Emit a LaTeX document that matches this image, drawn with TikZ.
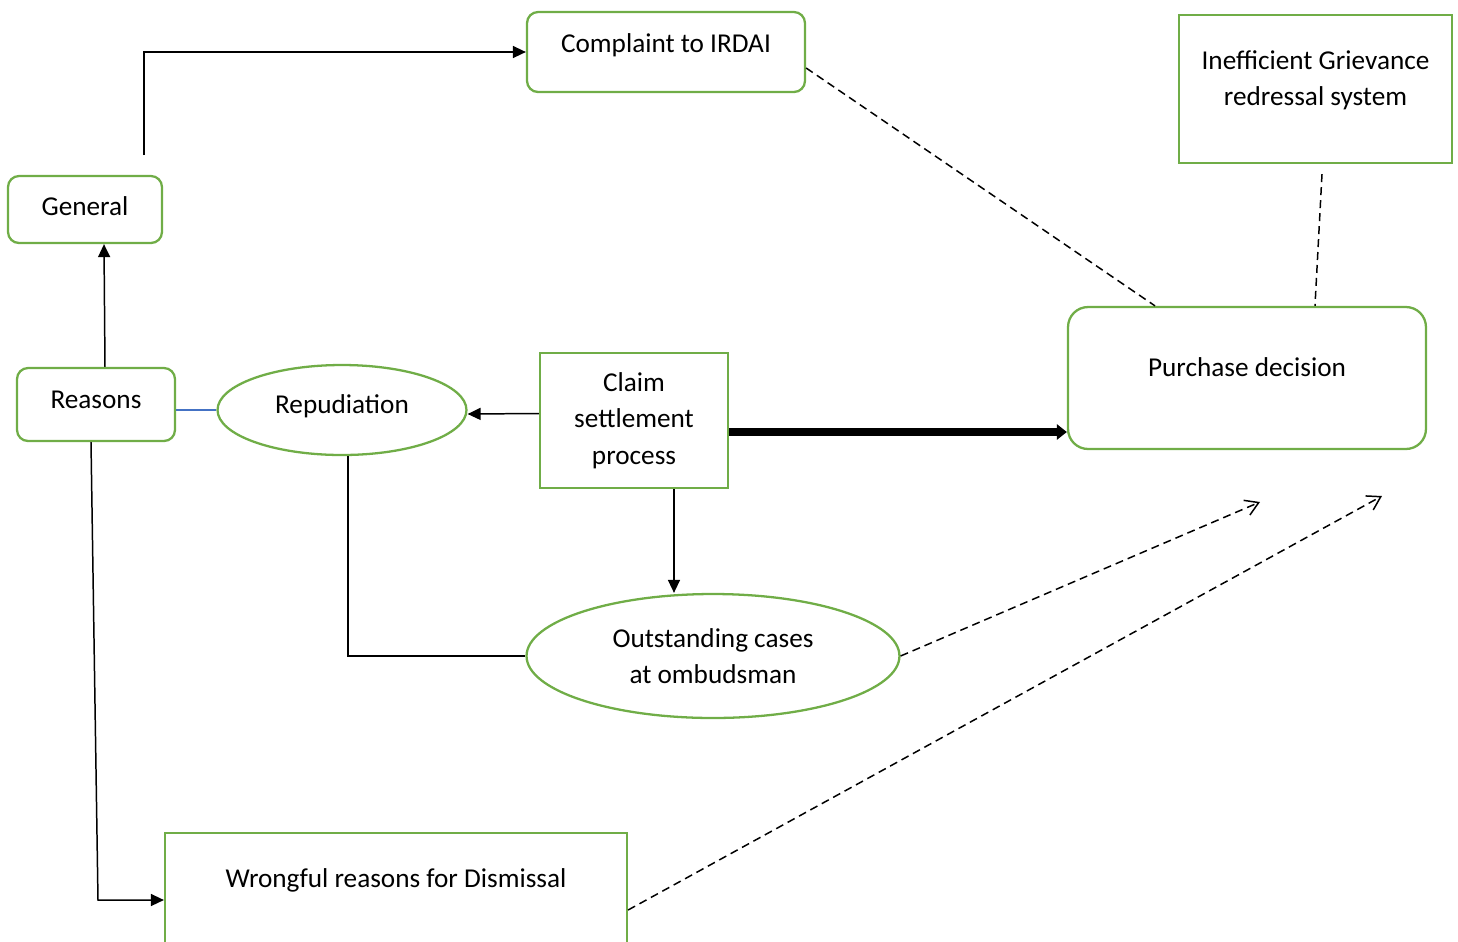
\documentclass[tikz,border=0pt]{standalone}
\usepackage{fontspec}
\setmainfont{Carlito}
\usetikzlibrary{calc,shapes.geometric,arrows.meta}

\definecolor{boxgreen}{HTML}{70AD47}
\definecolor{linkblue}{HTML}{4472C4}

\begin{document}
\begin{tikzpicture}[x=0.02cm, y=-0.02cm,
        font=\fontsize{15.5}{20.7}\selectfont,
        box/.style={draw=boxgreen, line width=1.3pt, inner sep=0pt, align=center},
        rbox/.style={box, rounded corners=0.22cm},
        oval/.style={box, ellipse},
        line/.style={line width=0.85pt},
        arr/.style={line, -{Triangle[length=0.26cm, width=0.24cm]}},
        dline/.style={line width=0.85pt, dash pattern=on 0.16cm off 0.1cm},
        darr/.style={dline, -{Straight Barb[length=0.26cm, width=0.32cm]}}]
            \useasboundingbox (0,0) rectangle (1458,941);

            \node [rbox, minimum width=3.08cm, minimum height=1.34cm, text depth=4pt] (general) at (85,209.5) {General};
            \node [rbox, minimum width=3.16cm, minimum height=1.46cm, text depth=5.5pt] (reasons) at (96,404.5) {Reasons};
            \node [rbox, minimum width=5.56cm, minimum height=1.6cm,
                label={[yshift=0.14cm]center:Complaint to IRDAI}] (irdai) at (666,52) {};
            \node [box, minimum width=5.46cm, minimum height=2.96cm,
                label={[yshift=0.18cm, align=center]center:Inefficient Grievance\\redressal system}] (ineff) at (1315.5,89) {};
            \node [rbox, rounded corners=0.4cm, minimum width=7.16cm, minimum height=2.84cm,
                label={[yshift=0.22cm]center:Purchase decision}] (purchase) at (1247,378) {};
            \node [oval, minimum width=4.98cm, minimum height=1.8cm, text depth=6.5pt] (repud) at (342,410) {Repudiation};
            \node [box, minimum width=3.76cm, minimum height=2.7cm] (claim) at (634,420.5) {Claim\\settlement\\process};
            \node [oval, minimum width=7.46cm, minimum height=2.48cm] (out) at (713,656) {Outstanding cases\\at ombudsman};
            \node [box, minimum width=9.24cm, minimum height=2.54cm,
                label={[yshift=0.33cm]center:Wrongful reasons for Dismissal}] (wrong) at (396,896.5) {};

            \coordinate (gstart) at (144,155);
            \coordinate (rbend) at (98,900);
            \coordinate (tipa) at (1260,502);
            \coordinate (tipb) at (1382,496);

            \draw [arr] (gstart) |- (irdai.west);
            \draw [arr] ([xshift=0.18cm]reasons.north) -- ([xshift=0.38cm]general.south);
            \draw [line, linkblue] (reasons.east |- repud.west) -- (repud.west);
            \draw [arr] ([yshift=0.14cm]claim.west) -- ([yshift=-0.08cm]repud.east);
            \draw [line width=4pt, -{Triangle[length=0.2cm, width=0.3cm]}] ([yshift=-0.23cm]claim.east) coordinate (cs) -- (cs -| purchase.west);
            \draw [arr] ([xshift=0.8cm]claim.south) coordinate (cb) -- (cb |- out.north);
            \draw [line] ([xshift=0.12cm]repud.south) |- (out.west);
            \draw [arr] ([xshift=-0.1cm]reasons.south) -- (rbend) -- (rbend -| wrong.west);

            \draw [dline] ([yshift=-0.32cm]irdai.east) -- ([xshift=-1.84cm]purchase.north);
            \draw [dline] ([xshift=0.13cm, yshift=-0.2cm]ineff.south) -- ([xshift=1.36cm]purchase.north);
            \draw [darr] (out.east) -- (tipa);
            \draw [darr] ([yshift=-0.27cm]wrong.east) -- (tipb);
        \end{tikzpicture}
\end{document}
